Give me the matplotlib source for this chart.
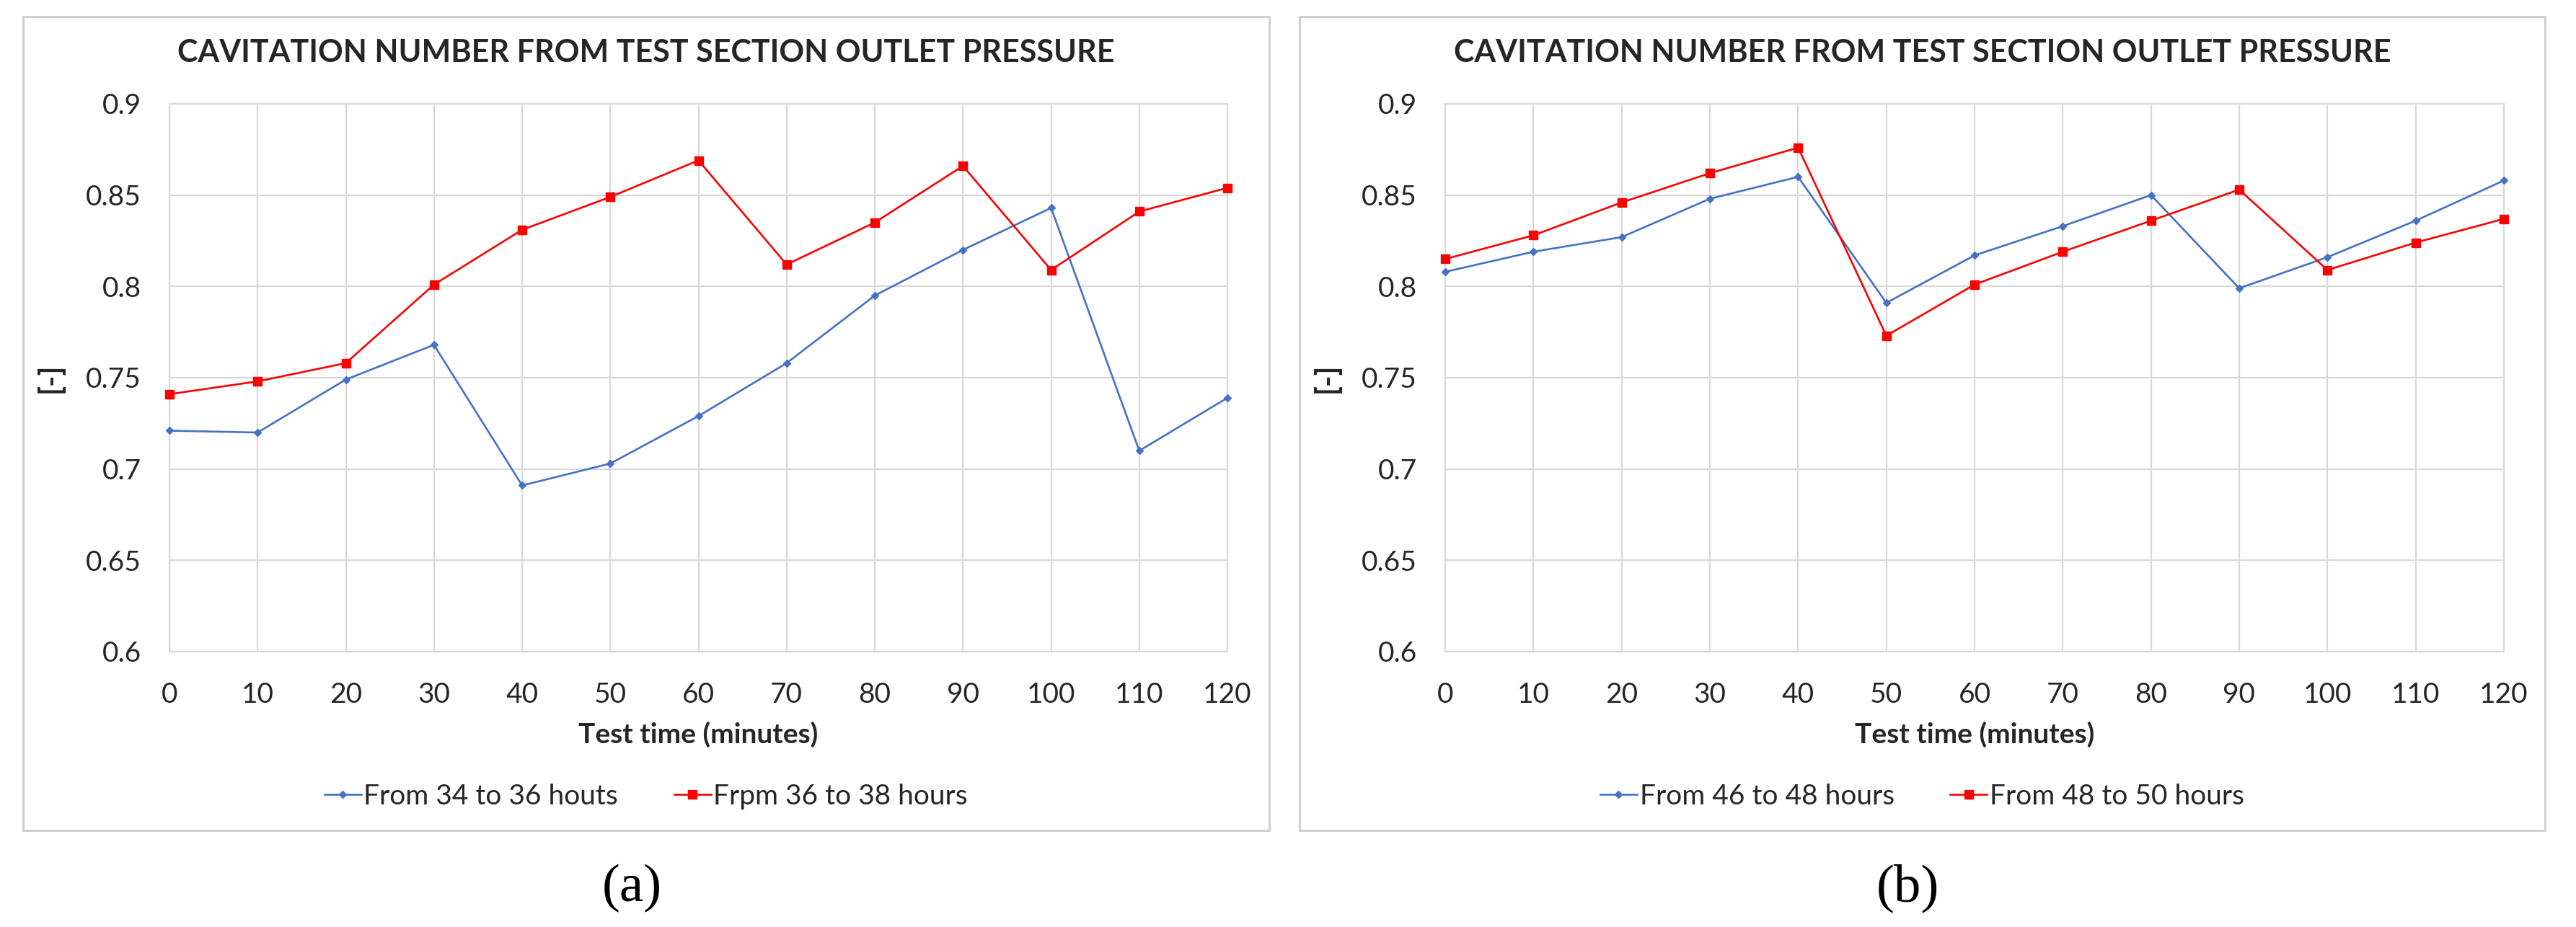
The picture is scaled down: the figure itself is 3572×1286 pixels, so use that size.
import matplotlib.pyplot as plt
from matplotlib.patches import Rectangle

# test time in minutes
minutes = [0, 10, 20, 30, 40, 50, 60, 70, 80, 90, 100, 110, 120]

# panel (a)
a_blue = [0.721, 0.720, 0.749, 0.768, 0.691, 0.703, 0.729, 0.758, 0.795, 0.820, 0.843, 0.710, 0.739]
a_red = [0.741, 0.748, 0.758, 0.801, 0.831, 0.849, 0.869, 0.812, 0.835, 0.866, 0.809, 0.841, 0.854]
a_labels = ['From 34 to 36 houts', 'Frpm 36 to 38 hours']

# panel (b)
b_blue = [0.808, 0.819, 0.827, 0.848, 0.860, 0.791, 0.817, 0.833, 0.850, 0.799, 0.816, 0.836, 0.858]
b_red = [0.815, 0.828, 0.846, 0.862, 0.876, 0.773, 0.801, 0.819, 0.836, 0.853, 0.809, 0.824, 0.837]
b_labels = ['From 46 to 48 hours', 'From 48 to 50 hours']

yticks = [0.6, 0.65, 0.7, 0.75, 0.8, 0.85, 0.9]
ytick_labels = ['0.6', '0.65', '0.7', '0.75', '0.8', '0.85', '0.9']
title = 'CAVITATION NUMBER FROM TEST SECTION OUTLET PRESSURE'

plt.rcParams['font.family'] = ['Lato', 'DejaVu Sans']
txt = '#262626'
grid_c = '#d9d9d9'
blue = '#4472C4'
red = '#FF0000'

W, H = 3572, 1286
fig = plt.figure(figsize=(W / 100, H / 100), dpi=100)


def panel(box, plot, blue_v, red_v, labels, caption, cap_x):
    bx0, by0, bx1, by1 = box
    fig.patches.append(Rectangle((bx0 / W, 1 - by1 / H), (bx1 - bx0) / W, (by1 - by0) / H,
                                 transform=fig.transFigure, fill=False,
                                 edgecolor='#d0d0d0', linewidth=2.2))
    px0, py0, px1, py1 = plot
    ax = fig.add_axes([px0 / W, 1 - py1 / H, (px1 - px0) / W, (py1 - py0) / H])
    ax.plot(minutes, blue_v, color=blue, lw=1.9, marker='D', ms=5, label=labels[0], clip_on=False, zorder=3)
    ax.plot(minutes, red_v, color=red, lw=1.9, marker='s', ms=8, label=labels[1], clip_on=False, zorder=3)
    ax.set_xlim(0, 120)
    ax.set_ylim(0.6, 0.9)
    ax.set_xticks(minutes)
    ax.set_xticklabels([str(m) for m in minutes])
    ax.set_yticks(yticks)
    ax.set_yticklabels(ytick_labels)
    ax.grid(True, color=grid_c, lw=1.6)
    ax.set_axisbelow(True)
    for s in ax.spines.values():
        s.set_color(grid_c)
        s.set_linewidth(1.6)
    ax.tick_params(length=0, labelsize=28, colors=txt)
    ax.tick_params(axis='x', pad=30)
    ax.tick_params(axis='y', pad=28)
    ax.set_xlabel('Test time (minutes)', fontsize=28, fontweight='bold', color=txt, va='center')
    ax.xaxis.set_label_coords(0.5, -(1019 - py1) / (py1 - py0))
    ax.set_ylabel('[-]', fontsize=30, fontweight='bold', color=txt)
    ax.yaxis.set_label_coords(-(px0 - (bx0 + 58)) / (px1 - px0), 0.5)
    cx = (bx0 + bx1) / 2 / W
    fig.text(cx, 1 - 73 / H, title, ha='center', va='center', fontsize=31, fontweight='bold', color=txt)
    ax.legend(loc='center', bbox_to_anchor=(cx, 1 - 1105 / H), bbox_transform=fig.transFigure,
              ncol=2, frameon=False, fontsize=28, handlelength=1.3, handletextpad=0.1,
              columnspacing=2.0, labelcolor=txt)
    fig.text(cap_x / W, 1 - 1232 / H, caption, ha='center', va='center', fontsize=54,
             family=['Liberation Serif', 'DejaVu Serif'], color='black')


panel((32, 23, 1760, 1152), (235, 144, 1702, 904), a_blue, a_red, a_labels, '(a)', 876)
panel((1802, 23, 3529, 1152), (2004, 144, 3472, 904), b_blue, b_red, b_labels, '(b)', 2645)

fig.savefig('out.png', dpi=100, facecolor='white')
